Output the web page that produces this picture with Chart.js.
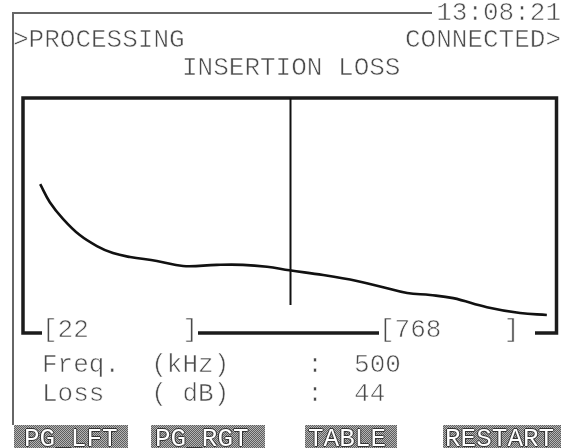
<!DOCTYPE html>
<html>
<head>
<meta charset="utf-8">
<script src="https://cdn.jsdelivr.net/npm/chart.js@4/dist/chart.umd.min.js"></script>
<style>
  html, body { margin: 0; padding: 0; background: #fff; }
  #screen { position: relative; width: 561px; height: 448px; overflow: hidden; background: #fff; }
  #chart { position: absolute; left: 0; top: 0; }
  .txt {
    position: absolute; white-space: pre; margin: 0;
    font-family: "Liberation Mono", "DejaVu Sans Mono", monospace;
    font-size: 26px; line-height: 26px; color: #4a4a4a;
    -webkit-text-stroke: 0.6px #fff;
  }
  .frameV { position: absolute; left: 12px; top: 12px; width: 2px; height: 413px; background: #666; }
  .frameH { position: absolute; left: 12px; top: 12px; width: 549px; height: 2px; background: #666; }
  .tag { background: #fff; }
  .btn {
    position: absolute; top: 425px; height: 23px; overflow: hidden;
    background: repeating-conic-gradient(#5e5e5e 0 25%, #b4b4b4 0 50%) 0 0 / 2px 2px;
  }
  .btn span {
    position: absolute; top: 1px; white-space: pre;
    font-family: "Liberation Mono", "DejaVu Sans Mono", monospace;
    font-size: 26px; line-height: 26px; color: #fff;
    text-shadow: 1px 0 #333, -1px 0 #333, 0 1px #333, 0 -1px #333;
  }
</style>
</head>
<body>
<div id="screen">
  <canvas id="chart" width="561" height="448"></canvas>
  <div class="frameV"></div>
  <div class="frameH"></div>

  <div class="txt tag" id="clock" style="right:0; top:0; padding-left:4px;"></div>
  <div class="txt" id="status" style="left:13px; top:27px;"></div>
  <div class="txt" id="link" style="right:0; top:27px;"></div>
  <div class="txt" id="title" style="left:182px; top:55px;"></div>

  <div class="txt tag" id="lowTag" style="left:42px; top:317px;"></div>
  <div class="txt tag" id="highTag" style="left:379px; top:317px;"></div>

  <div class="txt" id="freqRow" style="left:42px; top:352px;"></div>
  <div class="txt" id="lossRow" style="left:42px; top:381px;"></div>

  <div class="btn" style="left:14px; width:114px;"><span id="b0" style="left:10px;"></span></div>
  <div class="btn" style="left:151px; width:114px;"><span id="b1" style="left:4px;"></span></div>
  <div class="btn" style="left:305px; width:92px;"><span id="b2" style="left:3px;"></span></div>
  <div class="btn" style="left:443px; width:118px;"><span id="b3" style="left:2px;"></span></div>
</div>

<script>
// Insertion loss sweep (frequency in kHz, loss in dB)
const freqKHz = [34, 52, 77, 108, 140, 170, 202, 252, 301, 364, 413, 458, 500, 563, 626, 675, 720, 763, 806, 869, 931, 981];
const lossDB  = [22.0, 26.6, 30.9, 35.0, 37.8, 39.6, 40.6, 41.6, 42.9, 42.6, 42.6, 43.1, 44.0, 45.2, 46.7, 48.3, 49.8, 50.3, 51.1, 53.4, 54.9, 55.4];

// Axis ranges of the display window
const freqRange = [0, 1000];
const lossRange = [0, 60];

// Cursor reading
const cursorFreq = 500;
const cursorLoss = 44;

// Sweep band bounds shown under the plot
const bandLow = 22;
const bandHigh = 768;

// Screen texts
const clockText = "13:08:21";
const statusText = ">PROCESSING";
const linkText = "CONNECTED>";
const titleText = "INSERTION LOSS";
const buttonLabels = ["PG_LFT", "PG_RGT", "TABLE", "RESTART"];

document.getElementById("clock").textContent = clockText;
document.getElementById("status").textContent = statusText;
document.getElementById("link").textContent = linkText;
document.getElementById("title").textContent = titleText;
document.getElementById("lowTag").textContent = ("[" + bandLow).padEnd(9, " ") + "]";
document.getElementById("highTag").textContent = ("[" + bandHigh).padEnd(8, " ") + "] ";
document.getElementById("freqRow").textContent = "Freq.  (kHz)     :  " + cursorFreq;
document.getElementById("lossRow").textContent = "Loss   ( dB)     :  " + cursorLoss;
buttonLabels.forEach((t, i) => { document.getElementById("b" + i).textContent = t; });

// Plot frame and cursor line
const framePlugin = {
  id: "frameAndCursor",
  afterDraw(chart) {
    const { ctx, chartArea: a, scales } = chart;
    ctx.save();
    ctx.strokeStyle = "#1c1c1c";
    ctx.lineWidth = 3.5;
    ctx.strokeRect(a.left + 1, a.top, a.right - a.left - 1.5, a.bottom - a.top);
    const cx = Math.round(scales.x.getPixelForValue(cursorFreq)) + 0.5;
    ctx.lineWidth = 2;
    ctx.strokeStyle = "#111";
    ctx.beginPath();
    ctx.moveTo(cx, a.top);
    ctx.lineTo(cx, a.bottom - 28);
    ctx.stroke();
    ctx.restore();
  }
};

new Chart(document.getElementById("chart"), {
  type: "line",
  data: {
    datasets: [{
      data: freqKHz.map((f, i) => ({ x: f, y: lossDB[i] })),
      borderColor: "#111",
      borderWidth: 2.6,
      pointRadius: 0,
      fill: false,
      tension: 0.4
    }]
  },
  options: {
    responsive: false,
    animation: false,
    layout: { padding: { left: 22, top: 98, right: 4, bottom: 115 } },
    plugins: { legend: { display: false }, tooltip: { enabled: false } },
    scales: {
      x: { type: "linear", min: freqRange[0], max: freqRange[1], display: false },
      y: { type: "linear", min: lossRange[0], max: lossRange[1], reverse: true, display: false }
    }
  },
  plugins: [framePlugin]
});
</script>
</body>
</html>
